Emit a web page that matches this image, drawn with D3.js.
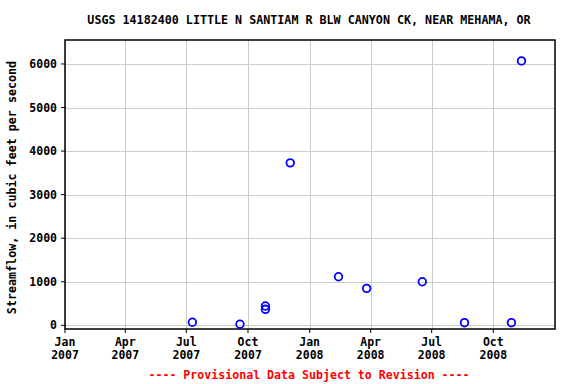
<!DOCTYPE html>
<html><head><meta charset="utf-8">
<script src="https://cdn.jsdelivr.net/npm/d3@7"></script>
<style>body{margin:0;background:#fff}svg{display:block}text{font-family:"DejaVu Sans Mono",monospace;font-weight:bold}</style>
</head><body><svg id="c" width="576" height="384"></svg>
<script>
const dates = ["2007-07-10","2007-09-19","2007-10-27","2007-10-27","2007-12-03","2008-02-13","2008-03-26","2008-06-17","2008-08-19","2008-10-28","2008-11-12"];
const flows = [70,25,443,367,3730,1115,848,1000,60,60,6070];
const yTicks = [0,1000,2000,3000,4000,5000,6000];
const xTickDates = ["2007-01-01","2007-04-01","2007-07-01","2007-10-01","2008-01-01","2008-04-01","2008-07-01","2008-10-01"];
const xTickMonths = ["Jan","Apr","Jul","Oct","Jan","Apr","Jul","Oct"];
const xTickYears = ["2007","2007","2007","2007","2008","2008","2008","2008"];
const title = "USGS 14182400 LITTLE N SANTIAM R BLW CANYON CK, NEAR MEHAMA, OR";
const yLabel = "Streamflow, in cubic feet per second";
const footer = "---- Provisional Data Subject to Revision ----";

const parse = d3.utcParse("%Y-%m-%d");
const L=65,R=555,T=40,B=329;
const svg = d3.select("#c");
const x = d3.scaleUtc().domain([parse("2007-01-01"),parse("2009-01-01")]).range([L,R]);
const y = d3.scaleLinear().domain([-85,6550]).range([B,T]);

const g = svg.append("g");
g.selectAll(".hg").data(yTicks).join("line").attr("x1",L).attr("x2",R)
 .attr("y1",d=>Math.round(y(d))+0.5).attr("y2",d=>Math.round(y(d))+0.5).attr("stroke","#cccccc").attr("stroke-width",1);
g.selectAll(".vg").data(xTickDates).join("line")
 .attr("x1",d=>Math.round(x(parse(d)))+0.5).attr("x2",d=>Math.round(x(parse(d)))+0.5)
 .attr("y1",T).attr("y2",B).attr("stroke","#cccccc").attr("stroke-width",1);

svg.append("rect").attr("x",L).attr("y",T).attr("width",R-L).attr("height",B-T)
 .attr("fill","none").attr("stroke","#000").attr("stroke-width",1.5);

svg.selectAll(".yl").data(yTicks).join("text").attr("x",L-8).attr("y",d=>y(d)+4)
 .attr("text-anchor","end").attr("font-size",11.5).text(d=>d);
svg.selectAll(".yt").data(yTicks).join("line").attr("x1",L-4).attr("x2",L)
 .attr("y1",d=>y(d)).attr("y2",d=>y(d)).attr("stroke","#000");
svg.selectAll(".xm").data(xTickDates).join("text").attr("x",d=>x(parse(d))).attr("y",346)
 .attr("text-anchor","middle").attr("font-size",11.5).text((d,i)=>xTickMonths[i]);
svg.selectAll(".xy").data(xTickDates).join("text").attr("x",d=>x(parse(d))).attr("y",359)
 .attr("text-anchor","middle").attr("font-size",11.5).text((d,i)=>xTickYears[i]);
svg.selectAll(".xt").data(xTickDates).join("line").attr("x1",d=>x(parse(d))).attr("x2",d=>x(parse(d)))
 .attr("y1",B).attr("y2",B+4).attr("stroke","#000");

svg.selectAll(".pt").data(dates).join("circle")
 .attr("cx",d=>x(parse(d))).attr("cy",(d,i)=>y(flows[i])).attr("r",3.8)
 .attr("fill","none").attr("stroke","#0000ff").attr("stroke-width",1.8);

svg.append("text").attr("x",309).attr("y",24).attr("text-anchor","middle").attr("font-size",11.7).text(title);
svg.append("text").attr("transform","translate(16,"+((T+B)/2+3)+") rotate(-90)").attr("text-anchor","middle")
 .attr("font-size",11.7).text(yLabel);
svg.append("text").attr("x",309).attr("y",379).attr("text-anchor","middle").attr("font-size",11.6)
 .attr("fill","#ff0000").text(footer);
</script></body></html>
